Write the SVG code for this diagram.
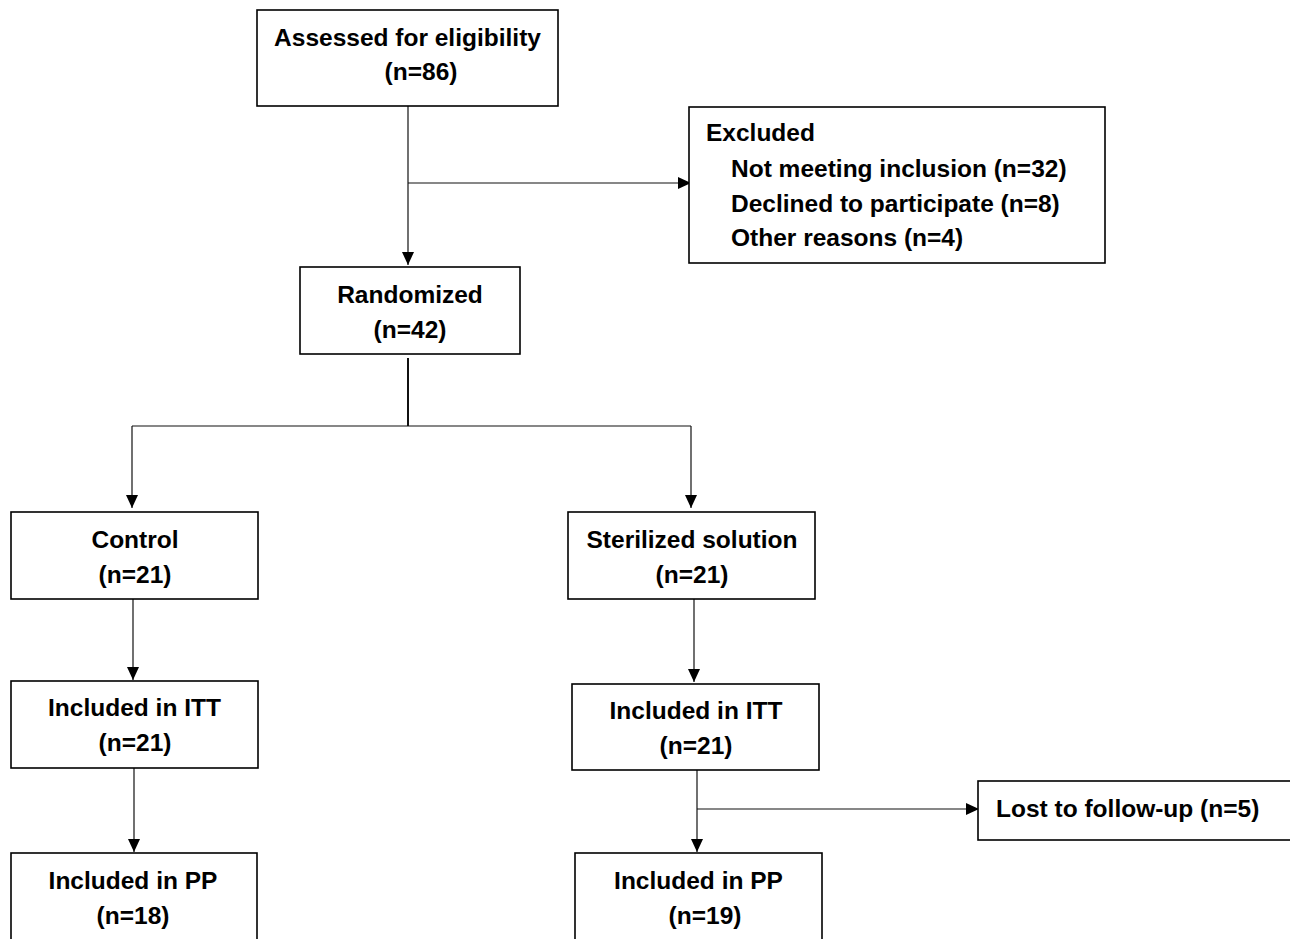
<svg xmlns="http://www.w3.org/2000/svg" width="1290" height="939" viewBox="0 0 1290 939">
<style>
.box{fill:#fff;stroke:#000;stroke-width:1.6}
.t{font-family:"Liberation Sans",Arial,sans-serif;font-weight:bold;font-size:24.5px;fill:#000}
.c{text-anchor:middle}
.ln{fill:none;stroke:#111;stroke-width:1.2}
.lnb{fill:none;stroke:#111;stroke-width:2}
</style>
<defs>
<marker id="ah" markerUnits="userSpaceOnUse" markerWidth="14" markerHeight="12" refX="13" refY="6" orient="auto">
<path d="M0,0 L13,6 L0,12 z" fill="#000"/>
</marker>
</defs>
<rect width="1290" height="939" fill="#fff"/>
<g id="connectors">
<path class="ln" d="M408,106 V265" marker-end="url(#ah)"/>
<path class="ln" d="M408,183 H691" marker-end="url(#ah)"/>
<path class="lnb" d="M408,358 V426"/>
<path class="ln" d="M132,426 H691"/>
<path class="ln" d="M132,426 V508" marker-end="url(#ah)"/>
<path class="ln" d="M691,426 V508" marker-end="url(#ah)"/>
<path class="ln" d="M133,599 V680" marker-end="url(#ah)"/>
<path class="ln" d="M694,599 V682" marker-end="url(#ah)"/>
<path class="ln" d="M134,768 V852" marker-end="url(#ah)"/>
<path class="ln" d="M697,770 V852" marker-end="url(#ah)"/>
<path class="ln" d="M697,809 H979" marker-end="url(#ah)"/>
</g>
<g id="assessed">
<rect class="box" x="257" y="10" width="301" height="96"/>
<text class="t c" x="407.5" y="46">Assessed for eligibility</text>
<text class="t c" x="421" y="80">(n=86)</text>
</g>
<g id="excluded">
<rect class="box" x="689" y="107" width="416" height="156"/>
<text class="t" x="706" y="141">Excluded</text>
<text class="t" x="731" y="177">Not meeting inclusion (n=32)</text>
<text class="t" x="731" y="212">Declined to participate (n=8)</text>
<text class="t" x="731" y="246">Other reasons (n=4)</text>
</g>
<g id="randomized">
<rect class="box" x="300" y="267" width="220" height="87"/>
<text class="t c" x="410" y="303">Randomized</text>
<text class="t c" x="410" y="338">(n=42)</text>
</g>
<g id="control">
<rect class="box" x="11" y="512" width="247" height="87"/>
<text class="t c" x="135" y="548">Control</text>
<text class="t c" x="135" y="583">(n=21)</text>
</g>
<g id="sterilized">
<rect class="box" x="568" y="512" width="247" height="87"/>
<text class="t c" x="692" y="548">Sterilized solution</text>
<text class="t c" x="692" y="583">(n=21)</text>
</g>
<g id="itt-control">
<rect class="box" x="11" y="681" width="247" height="87"/>
<text class="t c" x="134.5" y="716">Included in ITT</text>
<text class="t c" x="135" y="751">(n=21)</text>
</g>
<g id="itt-sterilized">
<rect class="box" x="572" y="684" width="247" height="86"/>
<text class="t c" x="696" y="719">Included in ITT</text>
<text class="t c" x="696" y="754">(n=21)</text>
</g>
<g id="lost">
<rect class="box" x="978" y="781" width="330" height="59"/>
<text class="t" x="996" y="817">Lost to follow-up (n=5)</text>
</g>
<g id="pp-control">
<rect class="box" x="11" y="853" width="246" height="100"/>
<text class="t c" x="133" y="889">Included in PP</text>
<text class="t c" x="133" y="924">(n=18)</text>
</g>
<g id="pp-sterilized">
<rect class="box" x="575" y="853" width="247" height="100"/>
<text class="t c" x="698.5" y="889">Included in PP</text>
<text class="t c" x="705" y="924">(n=19)</text>
</g>
</svg>
